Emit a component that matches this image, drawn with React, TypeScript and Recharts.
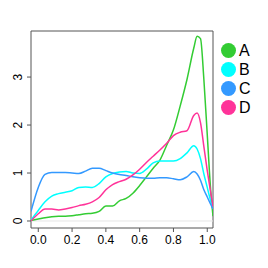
import React from "react";
import {
  Line,
  LineChart,
  ReferenceArea,
  ReferenceLine,
  XAxis,
  YAxis,
} from "recharts";

const xs = [
  -0.043, 0, 0.04, 0.08, 0.12, 0.16, 0.2, 0.24, 0.28, 0.32, 0.36, 0.4, 0.44,
  0.48, 0.52, 0.56, 0.6, 0.64, 0.68, 0.72, 0.76, 0.8, 0.84, 0.88, 0.92, 0.94,
  0.96, 0.98, 1.0, 1.02, 1.034,
];
const seriesA = [
  0.01, 0.04, 0.07, 0.09, 0.1, 0.1, 0.11, 0.13, 0.15, 0.16, 0.2, 0.31, 0.31,
  0.42, 0.47, 0.58, 0.74, 0.92, 1.1, 1.27, 1.58, 1.9, 2.4, 2.95, 3.6, 3.85,
  3.8, 2.95, 1.8, 0.65, 0.1,
];
const seriesB = [
  0.02, 0.22, 0.4, 0.52, 0.57, 0.6, 0.63, 0.7, 0.71, 0.7, 0.78, 0.92, 0.99,
  1.02, 1.03, 1.0, 0.99, 1.08, 1.21, 1.25, 1.25, 1.25, 1.3, 1.42, 1.57, 1.5,
  1.3, 0.98, 0.7, 0.42, 0.25,
];
const seriesC = [
  0.2, 0.7, 0.97, 1.01, 1.01, 1.01, 1.0, 0.99, 1.04, 1.1, 1.1, 1.05, 1.0, 0.97,
  0.95, 0.92, 0.9, 0.89, 0.89, 0.9, 0.9, 0.88, 0.86, 0.92, 1.03, 0.98, 0.85,
  0.65, 0.5, 0.35, 0.25,
];
const seriesD = [
  0.0, 0.15, 0.25, 0.25, 0.23, 0.25, 0.28, 0.32, 0.35, 0.4, 0.49, 0.65, 0.76,
  0.82, 0.87, 0.96, 1.08, 1.22, 1.35, 1.48, 1.62, 1.78, 1.85, 1.88, 2.2, 2.25,
  2.05, 1.55, 1.05, 0.6, 0.3,
];
const xTicks = [0, 0.2, 0.4, 0.6, 0.8, 1.0];
const yTicks = [0, 1, 2, 3];

const series = [
  { key: "A", color: "#33cc33" },
  { key: "B", color: "#00ffff" },
  { key: "C", color: "#3399ff" },
  { key: "D", color: "#ff3399" },
];

const data = xs.map((x, i) => ({
  x,
  A: seriesA[i],
  B: seriesB[i],
  C: seriesC[i],
  D: seriesD[i],
}));

const font = "'Liberation Sans', Arial, sans-serif";

function YTick(props: any) {
  const { x, y, payload } = props;
  const tx = x - 8.5;
  return (
    <g>
      <line x1={x - 4} x2={x} y1={y} y2={y} stroke="#555" />
      <text
        x={tx}
        y={y}
        transform={`rotate(-90 ${tx} ${y})`}
        textAnchor="middle"
        fontSize={12}
        fontFamily={font}
        fill="#000"
      >
        {payload.value}
      </text>
    </g>
  );
}

function XTick(props: any) {
  const { x, y, payload } = props;
  return (
    <g>
      <line x1={x} x2={x} y1={y} y2={y + 4} stroke="#555" />
      <text
        x={x}
        y={y + 16}
        textAnchor="middle"
        fontSize={12}
        fontFamily={font}
        fill="#000"
      >
        {payload.value.toFixed(1)}
      </text>
    </g>
  );
}

export default function App() {
  return (
    <div style={{ position: "absolute", left: 0, top: 0, width: 268, height: 268 }}>
      <LineChart
        width={268}
        height={268}
        data={data}
        margin={{ top: 31, right: 55, bottom: 0, left: 0 }}
      >
        <XAxis
          dataKey="x"
          type="number"
          domain={[-0.043, 1.034]}
          allowDataOverflow
          ticks={xTicks}
          axisLine={false}
          tickLine={false}
          tickSize={0}
          tickMargin={0}
          height={40}
          tick={<XTick />}
        />
        <YAxis
          type="number"
          domain={[-0.146, 3.96]}
          allowDataOverflow
          ticks={yTicks}
          axisLine={false}
          tickLine={false}
          tickSize={0}
          tickMargin={0}
          width={31}
          tick={<YTick />}
        />
        <ReferenceLine y={0} stroke="#e6e6e6" />
        {series.map((s) => (
          <Line
            key={s.key}
            dataKey={s.key}
            type="monotone"
            stroke={s.color}
            strokeWidth={1.5}
            dot={false}
            isAnimationActive={false}
          />
        ))}
        <ReferenceArea
          x1={-0.043}
          x2={1.034}
          y1={-0.146}
          y2={3.96}
          fill="none"
          stroke="#555"
          strokeWidth={1}
        />
      </LineChart>
      <div style={{ position: "absolute", left: 221, top: 41, fontFamily: font }}>
        {series.map((s) => (
          <div
            key={s.key}
            style={{ display: "flex", alignItems: "center", height: 19 }}
          >
            <span
              style={{
                width: 15,
                height: 15,
                borderRadius: "50%",
                background: s.color,
                display: "inline-block",
              }}
            />
            <span style={{ fontSize: 16, marginLeft: 3, color: "#000" }}>
              {s.key}
            </span>
          </div>
        ))}
      </div>
    </div>
  );
}
